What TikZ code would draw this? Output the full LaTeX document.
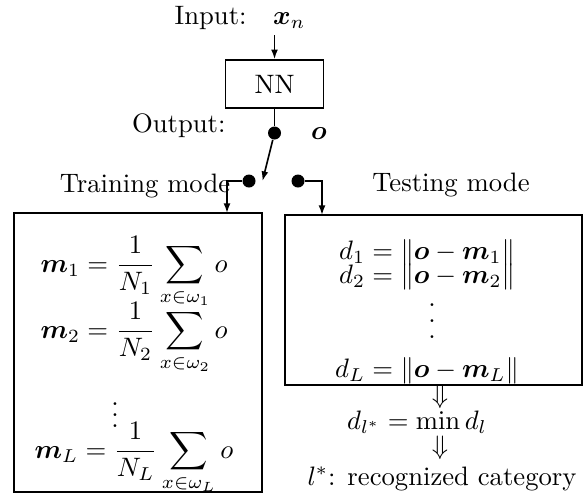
\documentclass[tikz,border=0pt]{standalone}
\usepackage{amsmath,amssymb}
\usetikzlibrary{arrows.meta,fit}
\newcommand\pxu{0.375pt}
\newcommand\tallvdots{\vbox{\baselineskip=5.9pt\lineskiplimit=-20pt\hbox{.}\hbox{.}\hbox{.}}}
\begin{document}
\begin{tikzpicture}[x=\pxu,y=-\pxu,
  box/.style={draw,line width=0.65pt,inner sep=0pt},
  wire/.style={line width=0.6pt},
  arr/.style={wire,-{Latex[length=3.6pt,width=2.6pt]}},
  sw/.style={circle,fill,inner sep=0pt,minimum size=13*\pxu},
  lbl/.style={inner sep=0pt,anchor=base},
  dts/.style={inner sep=0pt},
  font=\fontsize{10}{12}\selectfont]
\useasboundingbox (0,0) rectangle (584,502);
% top part
\node[lbl] (inp) at (240,24) {Input:\quad$\boldsymbol{x}_n$};
\coordinate (inpt) at (274.5,35);
\node[box,minimum width=98*\pxu,minimum height=48*\pxu] (nn) at (274.5,84) {NN};
\node[lbl,anchor=base east] (outl) at (226,132) {Output:};
\node[sw] (so) at (274.5,133) {};
\node[lbl] (ol) at (319,139) {$\boldsymbol{o}$};
\coordinate (tip) at (262.5,181);
\node[sw] (sl) at (249,181) {};
\node[sw] (sr) at (298,181) {};
\node[lbl] (tr) at (145,192) {Training mode};
\node[lbl] (te) at (451,191) {Testing mode};
% boxes
\node[box,fit={(14,213) (262,492)}] (lbox) {};
\node[box,fit={(285,215) (582,385)}] (rbox) {};
\coordinate (lt) at (227,213);
\coordinate (rt) at (322,215);
% left contents
\node[lbl] (m1) at (134,272) {$\displaystyle \boldsymbol{m}_1=\frac{1}{N_1}\sum_{x\in\omega_1} o$};
\node[lbl] (m2) at (134,338) {$\displaystyle \boldsymbol{m}_2=\frac{1}{N_2}\sum_{x\in\omega_2} o$};
\node[dts] (lv) at (115,407) {$\vdots$};
\node[lbl] (mL) at (134,458) {$\displaystyle \boldsymbol{m}_L=\frac{1}{N_L}\sum_{x\in\omega_L} o$};
% right contents
\node[lbl] (d1) at (427,259) {$d_1=\|\boldsymbol{o}-\boldsymbol{m}_1\|$};
\node[lbl] (d2) at (427,283) {$d_2=\|\boldsymbol{o}-\boldsymbol{m}_2\|$};
\node[dts] (rv) at (432,321) {\tallvdots};
\node[lbl] (dL) at (427,377) {$d_L=\|\boldsymbol{o}-\boldsymbol{m}_L\|$};
\node[dts] (a1) at (440,397) {$\Downarrow$};
\node[lbl] (dmin) at (417,429) {$d_{l^*}=\min d_l$};
\node[dts] (a2) at (440,448) {$\Downarrow$};
\node[lbl] (res) at (442,485) {$l^*$: recognized category};
% connectors
\draw[arr] (inpt) -- (nn.north);
\draw[wire] (nn.south) -- (so);
\draw[arr] (so) -- (tip);
\draw[arr] (sl) -| (lt);
\draw[arr] (sr) -| (rt);
\end{tikzpicture}
\end{document}
